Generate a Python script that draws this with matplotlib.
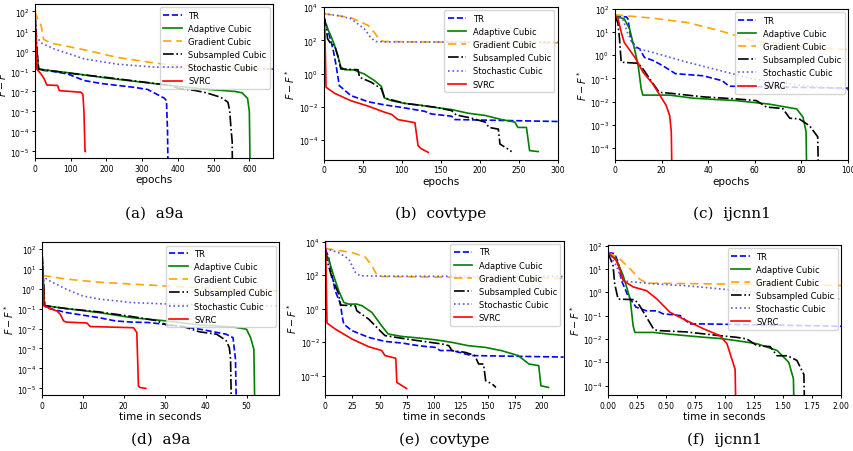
import matplotlib.pyplot as plt
from matplotlib.ticker import NullLocator, LogFormatterSciNotation, FormatStrFormatter

# ---- (a) a9a, epochs ----
a_tr_x = [0, 3, 10, 50, 91, 138, 185, 278, 315, 362, 368, 371, 373]
a_tr_y = [100, 5, 0.12, 0.1, 0.075, 0.035, 0.025, 0.016, 0.0126, 0.0046, 0.0035, 1e-4, 1e-7]
a_ac_x = [0, 3, 10, 100, 200, 300, 400, 500, 560, 580, 595, 600, 603]
a_ac_y = [100, 3, 0.13, 0.083, 0.047, 0.029, 0.018, 0.012, 0.01, 0.0085, 0.0045, 0.001, 1e-7]
a_gc_x = [0, 8, 17, 24, 45, 138, 231, 324, 371, 667]
a_gc_y = [100, 40, 20, 4, 2.6, 1.2, 0.5, 0.28, 0.22, 0.13]
a_sc_x = [0, 3, 10, 100, 200, 300, 380, 400, 450, 480, 520, 540, 545, 548, 552, 553]
a_sc_y = [100, 3, 0.13, 0.08, 0.05, 0.03, 0.02, 0.0145, 0.011, 0.0085, 0.0051, 0.0029, 0.0011, 2e-4, 3e-5, 1e-7]
a_st_x = [0, 2, 7, 20, 55, 91, 138, 231, 324, 417, 667]
a_st_y = [10, 8, 4.5, 2.5, 1.3, 0.8, 0.42, 0.23, 0.17, 0.14, 0.13]
a_sv_x = [0, 2, 5, 17, 26, 33, 63, 68, 129, 134, 137, 140, 141]
a_sv_y = [100, 5, 0.13, 0.074, 0.042, 0.021, 0.02, 0.011, 0.0091, 0.0072, 1e-3, 1e-5, 1e-5]

# ---- (b) covtype, epochs ----
b_tr_x = [0, 5, 12, 16, 20, 24, 35, 57, 78, 99, 129, 138, 164, 168, 300]
b_tr_y = [3000, 500, 30, 3, 0.19, 0.13, 0.047, 0.02, 0.013, 0.0093, 0.0054, 0.0037, 0.0027, 0.0017, 0.0013]
b_ac_x = [0, 3, 5, 9, 14, 18, 22, 27, 39, 44, 52, 65, 74, 78, 87, 104, 121, 142, 164, 185, 207, 228, 245, 249, 260, 264, 275]
b_ac_y = [2500, 850, 500, 200, 50, 12.5, 2.5, 1.7, 1.65, 1.3, 0.95, 0.38, 0.17, 0.034, 0.023, 0.016, 0.013, 0.0093,
          0.0068, 0.0041, 0.003, 0.0017, 0.0012, 5.7e-4, 5.7e-4, 2.3e-5, 2e-5]
b_gc_x = [0, 20, 35, 57, 65, 72, 78, 150, 300]
b_gc_y = [4000, 3000, 2300, 800, 300, 100, 85, 78, 70]
b_sc_x = [0, 3, 5, 9, 14, 18, 22, 44, 46, 61, 74, 78, 104, 142, 164, 170, 189, 207, 212, 224, 226, 236, 241]
b_sc_y = [3000, 800, 125, 63, 50, 12, 1.9, 1.7, 0.6, 0.3, 0.12, 0.034, 0.016, 0.0095, 0.0059, 0.0032, 0.0021,
          0.0012, 5.7e-4, 4.5e-4, 5.7e-5, 2.9e-5, 2e-5]
b_st_x = [0, 20, 35, 52, 61, 67, 80, 300]
b_st_y = [4000, 3000, 2000, 500, 135, 85, 80, 78]
b_sv_x = [0, 1.5, 3, 14, 35, 57, 78, 87, 95, 117, 121, 125, 134]
b_sv_y = [3000, 500, 0.15, 0.065, 0.023, 0.011, 0.0047, 0.0035, 0.0017, 0.0011, 4.6e-5, 3e-5, 1.8e-5]

# ---- (c) ijcnn1, epochs ----
c_tr_x = [0, 5, 5.6, 7, 9, 10.6, 12.7, 16.3, 20.6, 26, 37.8, 46, 49, 100]
c_tr_y = [50, 45, 37, 4.3, 2.3, 1.9, 0.8, 0.6, 0.35, 0.16, 0.13, 0.08, 0.046, 0.038]
c_ac_x = [0, 4, 6.3, 8.4, 10, 11.3, 12, 23.5, 33.5, 45, 52, 66, 78, 80.7, 82, 82.4]
c_ac_y = [50, 37, 14, 1.9, 0.35, 0.035, 0.019, 0.019, 0.014, 0.012, 0.011, 0.0078, 0.0048, 0.0021, 5e-4, 1e-6]
c_gc_x = [0, 16, 31, 45, 59, 80, 100]
c_gc_y = [56, 40, 26, 11.5, 4.3, 2.3, 1.75]
c_sc_x = [0, 1.3, 2, 2.7, 10, 12, 15, 19, 23.5, 37.8, 52, 60.7, 65, 72, 75, 79, 83.5, 87, 87.5]
c_sc_y = [50, 25, 5, 0.5, 0.45, 0.26, 0.095, 0.025, 0.023, 0.016, 0.013, 0.011, 0.0058, 0.005, 0.0019, 0.0018,
          9e-4, 3e-4, 1e-6]
c_st_x = [0, 3.4, 5.6, 9, 16, 31, 45, 59, 80, 100]
c_st_y = [50, 37, 8.3, 2, 1.35, 0.5, 0.22, 0.095, 0.05, 0.033]
c_sv_x = [0, 1.3, 2.7, 4, 7, 9, 12, 16.3, 19, 22, 23.5, 24.2, 24.6]
c_sv_y = [50, 40, 10, 3.6, 1.35, 0.7, 0.19, 0.057, 0.021, 0.0068, 0.0025, 5e-4, 1e-6]

# ---- (d) a9a, time ----
d_tr_x = [0, 0.3, 0.7, 2, 6, 14, 18, 22, 26, 30.5, 38.6, 45, 46.7, 47.3, 47.6]
d_tr_y = [100, 5, 0.13, 0.1, 0.063, 0.035, 0.024, 0.021, 0.02, 0.016, 0.0093, 0.0052, 0.0035, 3e-4, 1e-7]
d_ac_x = [0, 0.3, 0.65, 6, 14, 22, 30.5, 38.6, 46.7, 50, 51, 51.8, 52.1]
d_ac_y = [100, 5, 0.14, 0.1, 0.063, 0.035, 0.024, 0.015, 0.012, 0.0093, 0.0035, 9e-4, 1e-7]
d_gc_x = [0, 0.25, 6, 14, 30.5, 46.7, 58]
d_gc_y = [100, 4.6, 3, 2.1, 1.35, 0.93, 0.76]
d_sc_x = [0, 0.3, 0.65, 6, 14, 22, 28, 30.5, 34.5, 38.6, 42.7, 45, 45.8, 46.1, 46.4]
d_sc_y = [100, 5, 0.14, 0.1, 0.068, 0.04, 0.025, 0.015, 0.0126, 0.0068, 0.0052, 0.0025, 1.1e-3, 3e-4, 1e-7]
d_st_x = [0, 0.25, 2, 6, 10, 14, 22, 30.5, 46.7, 58]
d_st_y = [100, 4, 2.4, 0.93, 0.43, 0.3, 0.2, 0.17, 0.15, 0.135]
d_sv_x = [0, 0.2, 0.5, 2, 3.7, 4.5, 5.3, 6, 11, 11.8, 22.4, 23.2, 23.6, 24, 25.4]
d_sv_y = [100, 10, 0.14, 0.1, 0.075, 0.052, 0.024, 0.021, 0.019, 0.0126, 0.011, 0.0063, 1.3e-5, 1.1e-5, 1e-5]

# ---- (e) covtype, time ----
e_tr_x = [0, 3, 6, 9, 14, 15.4, 17, 24.6, 40, 55, 71, 86, 101.5, 106, 117, 135, 220]
e_tr_y = [3600, 1200, 120, 12, 1.9, 0.38, 0.12, 0.049, 0.0195, 0.0112, 0.0089, 0.0062, 0.0049, 0.0032, 0.0032,
          0.0016, 0.0013]
e_ac_x = [0, 3, 7.7, 12.3, 17, 21.5, 29, 34, 43, 52, 58, 71, 86, 101.5, 117, 132, 148, 163, 178, 188, 197, 199, 206]
e_ac_y = [2300, 930, 93, 12, 2.4, 1.9, 1.9, 1.5, 0.6, 0.095, 0.031, 0.022, 0.018, 0.014, 0.0098, 0.0062, 0.0049,
          0.0031, 0.0016, 5e-4, 4e-4, 2.5e-5, 2e-5]
e_gc_x = [0, 24.6, 37, 43, 48, 52, 220]
e_gc_y = [4000, 2300, 1200, 370, 93, 85, 65]
e_sc_x = [0, 1.5, 6, 12.3, 14, 27.7, 29, 40, 52, 55, 71, 86, 108, 114, 117, 129, 138, 141.5, 146, 148, 154, 157.5]
e_sc_y = [3000, 800, 74, 7.6, 1.66, 1.5, 0.76, 0.24, 0.039, 0.025, 0.017, 0.0123, 0.0078, 0.0062, 0.0031,
          0.0025, 0.0016, 5e-4, 5e-4, 5e-5, 3.2e-5, 2e-5]
e_st_x = [0, 12, 21.5, 27.7, 32, 60, 220]
e_st_y = [4000, 2300, 950, 150, 93, 88, 85]
e_sv_x = [0, 0.6, 1.5, 9, 24.6, 40, 52, 55, 65, 66, 71, 75]
e_sv_y = [10000, 240, 0.14, 0.062, 0.0155, 0.0054, 0.0032, 0.0016, 0.0011, 4e-5, 2.5e-5, 1.7e-5]

# ---- (f) ijcnn1, time ----
f_tr_x = [0, 0.057, 0.086, 0.115, 0.17, 0.24, 0.33, 0.42, 0.47, 0.62, 0.7, 0.82, 2.0]
f_tr_y = [51, 45, 19.5, 3.2, 0.72, 0.23, 0.16, 0.16, 0.12, 0.1, 0.044, 0.044, 0.035]
f_ac_x = [0, 0.07, 0.13, 0.19, 0.215, 0.23, 0.39, 0.53, 0.67, 0.82, 0.96, 1.1, 1.28, 1.45, 1.55, 1.59, 1.6]
f_ac_y = [51, 27, 5.1, 0.51, 0.037, 0.019, 0.019, 0.016, 0.0138, 0.0118, 0.0105, 0.0085, 0.0062, 0.0032, 1e-3,
          2e-4, 1e-6]
f_gc_x = [0, 0.1, 0.19, 0.27, 0.33, 0.53, 2.0]
f_gc_y = [51, 27, 10, 3.7, 2.45, 2.4, 1.95]
f_sc_x = [0, 0.043, 0.057, 0.086, 0.23, 0.27, 0.33, 0.39, 0.42, 0.67, 0.96, 1.1, 1.19, 1.28, 1.39, 1.45, 1.54,
          1.62, 1.68, 1.69]
f_sc_y = [51, 14, 2.3, 0.51, 0.48, 0.27, 0.085, 0.027, 0.023, 0.02, 0.0138, 0.0118, 0.01, 0.0051, 0.0047, 0.0019,
          0.0019, 0.0012, 3e-4, 1e-6]
f_st_x = [0, 0.07, 0.115, 0.17, 0.39, 0.67, 0.96, 1.39, 2.0]
f_st_y = [51, 14, 3.7, 2.9, 2.3, 1.9, 1.4, 0.85, 0.51]
f_sv_x = [0, 0.07, 0.1, 0.13, 0.215, 0.33, 0.42, 0.53, 0.67, 0.82, 0.96, 1.02, 1.09, 1.1]
f_sv_y = [51, 23, 10, 3.2, 1.7, 1.17, 0.51, 0.14, 0.062, 0.027, 0.0138, 0.0062, 5e-4, 1e-6]

labels = ['TR', 'Adaptive Cubic', 'Gradient Cubic', 'Subsampled Cubic', 'Stochastic Cubic', 'SVRC']
colors = ['blue', 'green', 'orange', 'black', '#5a5ae0', 'red']
styles = ['--', '-', (0, (5, 3)), '-.', ':', '-']
captions = ['(a)  a9a', '(b)  covtype', '(c)  ijcnn1', '(d)  a9a', '(e)  covtype', '(f)  ijcnn1']

fig = plt.figure(figsize=(8.54, 4.52), dpi=100)

# axes boxes in figure fractions
boxes = [
    [0.041, 0.648, 0.279, 0.341],
    [0.379, 0.644, 0.274, 0.338],
    [0.720, 0.644, 0.273, 0.334],
    [0.049, 0.124, 0.278, 0.338],
    [0.381, 0.124, 0.279, 0.341],
    [0.712, 0.124, 0.273, 0.332],
]

panels = [
    [(a_tr_x, a_tr_y), (a_ac_x, a_ac_y), (a_gc_x, a_gc_y), (a_sc_x, a_sc_y), (a_st_x, a_st_y), (a_sv_x, a_sv_y)],
    [(b_tr_x, b_tr_y), (b_ac_x, b_ac_y), (b_gc_x, b_gc_y), (b_sc_x, b_sc_y), (b_st_x, b_st_y), (b_sv_x, b_sv_y)],
    [(c_tr_x, c_tr_y), (c_ac_x, c_ac_y), (c_gc_x, c_gc_y), (c_sc_x, c_sc_y), (c_st_x, c_st_y), (c_sv_x, c_sv_y)],
    [(d_tr_x, d_tr_y), (d_ac_x, d_ac_y), (d_gc_x, d_gc_y), (d_sc_x, d_sc_y), (d_st_x, d_st_y), (d_sv_x, d_sv_y)],
    [(e_tr_x, e_tr_y), (e_ac_x, e_ac_y), (e_gc_x, e_gc_y), (e_sc_x, e_sc_y), (e_st_x, e_st_y), (e_sv_x, e_sv_y)],
    [(f_tr_x, f_tr_y), (f_ac_x, f_ac_y), (f_gc_x, f_gc_y), (f_sc_x, f_sc_y), (f_st_x, f_st_y), (f_sv_x, f_sv_y)],
]

xlims = [(0, 667), (0, 300), (0, 100), (0, 58), (0, 220), (0, 2)]
ylims = [(10**-5.33, 10**2.37), (10**-5.2, 1e4), (10**-4.52, 1e2),
         (10**-5.33, 10**2.33), (10**-5.15, 10**4.06), (10**-4.4, 10**2.03)]
xticks = [range(0, 601, 100), range(0, 301, 50), range(0, 101, 20),
          range(0, 51, 10), range(0, 201, 25), [0, 0.25, 0.5, 0.75, 1.0, 1.25, 1.5, 1.75, 2.0]]
yticks = [[10.0**k for k in range(-5, 3)], [10.0**k for k in range(-4, 5, 2)], [10.0**k for k in range(-4, 3)],
          [10.0**k for k in range(-5, 3)], [10.0**k for k in range(-4, 5, 2)], [10.0**k for k in range(-4, 3)]]
xlabels = ['epochs'] * 3 + ['time in seconds'] * 3

for i in range(6):
    ax = fig.add_axes(boxes[i])
    for j, (xs, ys) in enumerate(panels[i]):
        ax.plot(xs, ys, color=colors[j], linestyle=styles[j], lw=1.2, label=labels[j])
    ax.set_yscale('log')
    ax.set_xlim(*xlims[i])
    ax.set_ylim(*ylims[i])
    ax.set_xticks(list(xticks[i]))
    ax.set_yticks(yticks[i])
    ax.yaxis.set_major_formatter(LogFormatterSciNotation())
    ax.yaxis.set_minor_locator(NullLocator())
    if i == 5:
        ax.xaxis.set_major_formatter(FormatStrFormatter('%.2f'))
    ax.tick_params(labelsize=5.5, length=2.5, width=0.7, pad=1.5)
    ax.set_xlabel(xlabels[i], fontsize=7.5, labelpad=1)
    ax.set_ylabel(r'$F - F^*$', fontsize=7, labelpad=1)
    ax.legend(loc='upper right', fontsize=6, handlelength=2.2, borderaxespad=0.4)
    bx = boxes[i]
    cy = 0.528 if i < 3 else 0.027
    fig.text(bx[0] + bx[2] / 2, cy, captions[i], ha='center', va='center',
             fontsize=11, family='DejaVu Serif')

fig.savefig('out.png', dpi=100)
